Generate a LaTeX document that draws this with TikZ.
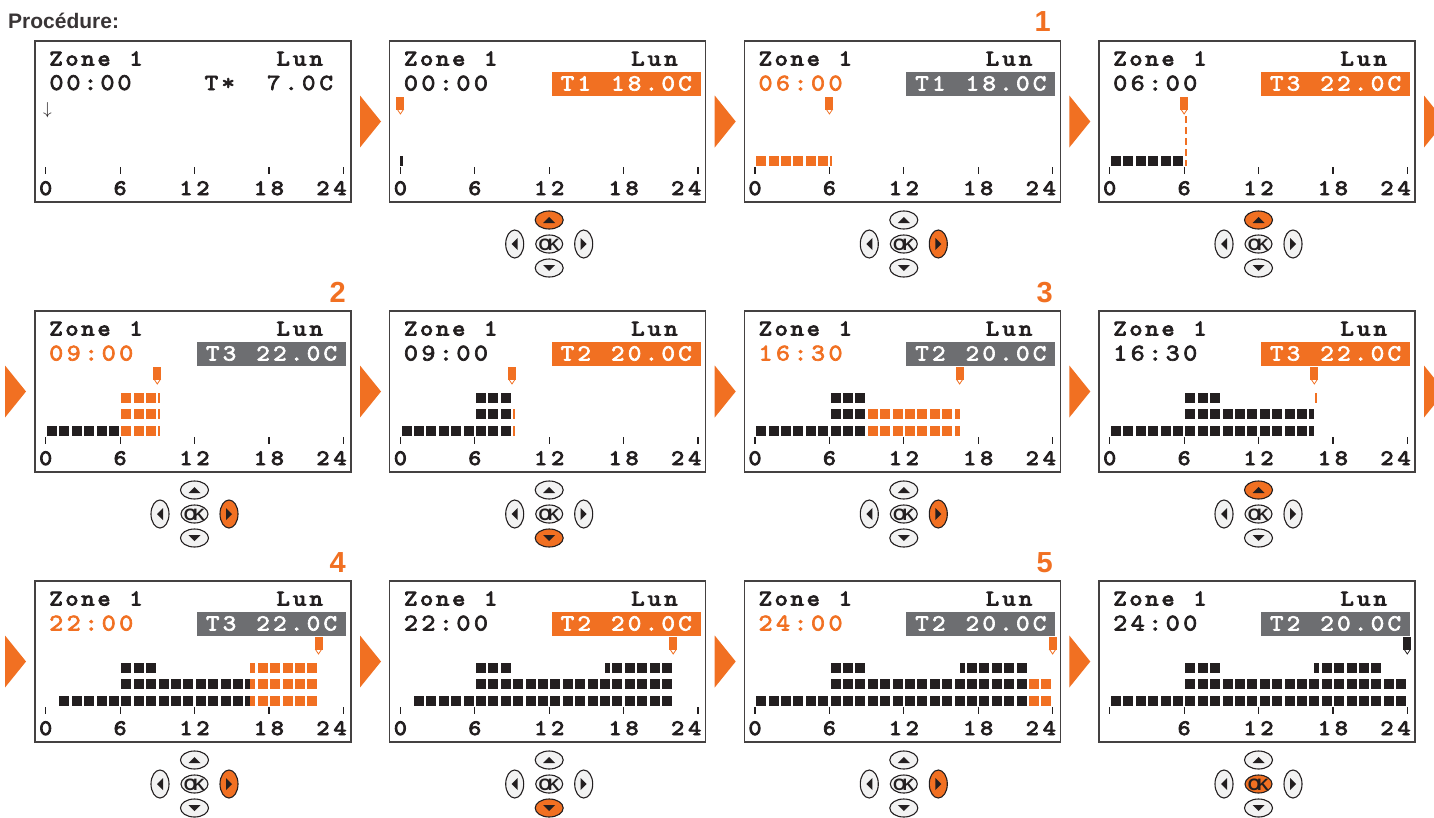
\documentclass[tikz,border=0pt]{standalone}
\usepackage{fontspec}
\newfontfamily\hel{Liberation Sans}
\newfontfamily\lcdB{lmmono10-regular.otf}[FakeBold=4,FakeStretch=1.12]
\newfontfamily\lcdM{lmmono10-regular.otf}[FakeBold=2.8,FakeStretch=1.12]
\definecolor{org}{RGB}{241,112,34}
\definecolor{gbox}{RGB}{109,110,113}
\definecolor{ink}{RGB}{35,31,32}
\definecolor{btnfill}{RGB}{242,242,242}
\newlength\lcdp
\let\lcdstop\relax
\def\lcdloop#1{\ifx#1\lcdstop\else\makebox[\lcdp]{#1}\expandafter\lcdloop\fi}
\newcommand\lcd[2]{\setlength\lcdp{#1}\lcdloop#2\lcdstop}
\newcommand\fz{\lcdB\fontsize{22.5pt}{22.5pt}\selectfont}
\newcommand\ft{\lcdM\fontsize{24pt}{24pt}\selectfont}
\newcommand\fb{\lcdM\fontsize{23pt}{23pt}\selectfont}
\newcommand\fa{\lcdB\fontsize{22pt}{22pt}\selectfont}
% frame of one screen
\newcommand\lcdframe[2]{%
  \draw[panel] (0,0) rectangle (316,161);
  \node[lcdt, anchor=base west] (#1zone) at (13,24.5) {\fz\lcd{16pt}{Zone~1}};
  \node[lcdt, anchor=base east] (#1lun) at (289.5,24.5) {\fz\lcd{16.5pt}{Lun}};
  \foreach \hh in {0,6,12,18,24}{\draw[tick] ({10.7+12.4*\hh},126) -- ({10.7+12.4*\hh},133);}
  \node[lcdt, anchor=base] (#1a0) at (10.7,154) {\fa #2};
  \node[lcdt, anchor=base] (#1a6) at (85.1,154) {\fa 6};
  \node[lcdt, anchor=base] (#1a12) at (159.5,154) {\fa\lcd{17pt}{12}};
  \node[lcdt, anchor=base] (#1a18) at (233.9,154) {\fa\lcd{17pt}{18}};
  \node[lcdt, anchor=base east] (#1a24) at (313.5,154) {\fa\lcd{17pt}{24}};
}
% time and temperature box
\newcommand\tbox[5]{%
  \node[lcdt, anchor=base west, text=#3] (#1time) at (12.5,49.5) {\ft\lcd{17.5pt}{#2}};
  \fill[#5] (162,31) rectangle (311,55);
  \node[lcdt, anchor=base, text=white] (#1temp) at (236.5,49.5) {\fb\lcd{16.8pt}{#4}};
}
% bar segment: row top, from hour, to hour, colour
\newcommand\seg[4]{%
  \pgfmathtruncatemacro\sega{floor(#2)}%
  \pgfmathtruncatemacro\segb{ceil(#3)-1}%
  \foreach \hh in {\sega,...,\segb}{%
    \pgfmathsetmacro\segl{(#2>\hh) ? (10.7+12.4*#2) : (10.7+12.4*\hh+1.2)}%
    \pgfmathsetmacro\segr{(#3<\hh+1) ? (10.7+12.4*#3) : (10.7+12.4*(\hh+1)-1.2)}%
    \fill[#4] (\segl,#1) rectangle (\segr,#1+10);
  }}
\newcommand\thinbar[3]{\fill[#3] ({10.7+12.4*#2+0.8},#1) rectangle ++(2,10);}
\newcommand\cursor[2]{%
  \pgfmathsetmacro\cx{10.7+12.4*#1}%
  \fill[#2] (\cx-4,56) rectangle (\cx+4,68.5);
  \filldraw[draw=#2, fill=white, line width=0.8pt] (\cx-3,68.5) -- (\cx+3,68.5) -- (\cx,73) -- cycle;
}
% keypad: id, up, down, left, right, ok fills
\newcommand\dpad[6]{%
  \filldraw[btn, fill=#2] (159.5,179) ellipse [x radius=14, y radius=9];
  \fill[ink] (153.5,182) -- (165.5,182) -- (159.5,176) -- cycle;
  \filldraw[btn, fill=#3] (159.5,227) ellipse [x radius=14, y radius=9];
  \fill[ink] (153.5,224) -- (165.5,224) -- (159.5,230) -- cycle;
  \filldraw[btn, fill=#4] (125,203) ellipse [x radius=9, y radius=14];
  \fill[ink] (128,197) -- (128,209) -- (122,203) -- cycle;
  \filldraw[btn, fill=#5] (194,203) ellipse [x radius=9, y radius=14];
  \fill[ink] (191,197) -- (191,209) -- (197,203) -- cycle;
  \filldraw[btn, fill=#6] (159.5,203) ellipse [x radius=13.5, y radius=9];
  \node[okt] (#1ok) at (159.5,203.5) {O\kern-3.5pt K};
}
\newcommand\bigarrow[2]{\fill[org] (#1,#2-26) -- (#1+21,#2) -- (#1,#2+26) -- cycle;}
\begin{document}
\begin{tikzpicture}[x=1pt,y=-1pt,
  panel/.style={draw=ink!85!white, line width=1.4pt},
  lcdt/.style={inner sep=0pt, outer sep=0pt, text=ink},
  tick/.style={draw=ink, line width=1.2pt},
  btn/.style={draw=ink, line width=1.1pt},
  okt/.style={inner sep=0pt, text=ink, font=\hel\bfseries\fontsize{16.5pt}{16.5pt}\selectfont},
  stepnum/.style={inner sep=0pt, text=org, font=\hel\bfseries\fontsize{29pt}{29pt}\selectfont},
]
\useasboundingbox (0,0) rectangle (1434,817);
\fill[white] (0,0) rectangle (1434,817);
\node[anchor=base west, inner sep=0pt, text=ink!90, font=\hel\bfseries\fontsize{21pt}{21pt}\selectfont] (title) at (8,28) {Procédure:};

% step numbers
\node[stepnum, anchor=base east] (n1) at (1051,31) {1};
\node[stepnum, anchor=base east] (n2) at (346,302) {2};
\node[stepnum, anchor=base east] (n3) at (1053,302) {3};
\node[stepnum, anchor=base east] (n4) at (346,572) {4};
\node[stepnum, anchor=base east] (n5) at (1053,572) {5};

% big arrows
\bigarrow{360}{121.5}\bigarrow{714.7}{121.5}\bigarrow{1069.3}{121.5}\bigarrow{1424}{121.5}
\bigarrow{5}{391.5}\bigarrow{360}{391.5}\bigarrow{714.7}{391.5}\bigarrow{1069.3}{391.5}\bigarrow{1424}{391.5}
\bigarrow{5}{661.5}\bigarrow{360}{661.5}\bigarrow{714.7}{661.5}\bigarrow{1069.3}{661.5}

% ---------- row 1 ----------
\begin{scope}[shift={(35,41)}]
  \lcdframe{p11}{0}
  \node[lcdt, anchor=base west] (p11time) at (13,49) {\ft\lcd{17pt}{00:00}};
  \node[lcdt, anchor=base west] (p11t) at (168,49) {\fb\lcd{16.8pt}{T*}};
  \node[lcdt, anchor=base east] (p11v) at (300,49) {\fb\lcd{17.5pt}{7.0C}};
  \node[lcdt, font=\fontsize{17pt}{17pt}\selectfont] (p11arr) at (12.5,69) {$\downarrow$};
\end{scope}
\begin{scope}[shift={(389.7,41)}]
  \lcdframe{p12}{0}
  \tbox{p12}{00:00}{ink}{T1~18.0C}{org}
  \cursor{0}{org}
  \fill[ink] (10.7,114.5) rectangle (13.7,124.5);
  \dpad{p12}{org}{btnfill}{btnfill}{btnfill}{btnfill}
\end{scope}
\begin{scope}[shift={(744.3,41)}]
  \lcdframe{p13}{0}
  \tbox{p13}{06:00}{org}{T1~18.0C}{gbox}
  \cursor{6}{org}
  \seg{114.5}{0}{6}{org}\thinbar{114.5}{6}{org}
  \dpad{p13}{btnfill}{btnfill}{btnfill}{org}{btnfill}
\end{scope}
\begin{scope}[shift={(1099,41)}]
  \lcdframe{p14}{0}
  \tbox{p14}{06:00}{ink}{T3~22.0C}{org}
  \cursor{6}{org}
  \seg{114.5}{0}{6}{ink}
  \draw[org, line width=2pt, dash pattern=on 7pt off 4pt] (87,75) -- (87,125);
  \dpad{p14}{org}{btnfill}{btnfill}{btnfill}{btnfill}
\end{scope}

% ---------- row 2 ----------
\begin{scope}[shift={(35,311)}]
  \lcdframe{p21}{0}
  \tbox{p21}{09:00}{org}{T3~22.0C}{gbox}
  \cursor{9}{org}
  \seg{114.5}{0}{6}{ink}
  \seg{114.5}{6}{9}{org}\seg{98}{6}{9}{org}\seg{81.5}{6}{9}{org}
  \thinbar{114.5}{9}{org}\thinbar{98}{9}{org}\thinbar{81.5}{9}{org}
  \dpad{p21}{btnfill}{btnfill}{btnfill}{org}{btnfill}
\end{scope}
\begin{scope}[shift={(389.7,311)}]
  \lcdframe{p22}{0}
  \tbox{p22}{09:00}{ink}{T2~20.0C}{org}
  \cursor{9}{org}
  \seg{114.5}{0}{9}{ink}\seg{98}{6}{9}{ink}\seg{81.5}{6}{9}{ink}
  \thinbar{114.5}{9}{org}\thinbar{98}{9}{org}
  \dpad{p22}{btnfill}{org}{btnfill}{btnfill}{btnfill}
\end{scope}
\begin{scope}[shift={(744.3,311)}]
  \lcdframe{p23}{0}
  \tbox{p23}{16:30}{org}{T2~20.0C}{gbox}
  \cursor{16.5}{org}
  \seg{114.5}{0}{9}{ink}\seg{98}{6}{9}{ink}\seg{81.5}{6}{9}{ink}
  \seg{114.5}{9}{16.5}{org}\seg{98}{9}{16.5}{org}
  \dpad{p23}{btnfill}{btnfill}{btnfill}{org}{btnfill}
\end{scope}
\begin{scope}[shift={(1099,311)}]
  \lcdframe{p24}{0}
  \tbox{p24}{16:30}{ink}{T3~22.0C}{org}
  \cursor{16.5}{org}
  \seg{114.5}{0}{16.5}{ink}\seg{98}{6}{16.5}{ink}\seg{81.5}{6}{9}{ink}
  \thinbar{81.5}{16.5}{org}
  \dpad{p24}{org}{btnfill}{btnfill}{btnfill}{btnfill}
\end{scope}

% ---------- row 3 ----------
\begin{scope}[shift={(35,581)}]
  \lcdframe{p31}{0}
  \tbox{p31}{22:00}{org}{T3~22.0C}{gbox}
  \cursor{22}{org}
  \seg{114.5}{1}{16.5}{ink}\seg{98}{6}{16.5}{ink}\seg{81.5}{6}{9}{ink}
  \seg{114.5}{16.5}{22}{org}\seg{98}{16.5}{22}{org}\seg{81.5}{16.5}{22}{org}
  \dpad{p31}{btnfill}{btnfill}{btnfill}{org}{btnfill}
\end{scope}
\begin{scope}[shift={(389.7,581)}]
  \lcdframe{p32}{0}
  \tbox{p32}{22:00}{ink}{T2~20.0C}{org}
  \cursor{22}{org}
  \seg{114.5}{1}{22}{ink}\seg{98}{6}{22}{ink}\seg{81.5}{6}{9}{ink}\seg{81.5}{16.5}{22}{ink}
  \dpad{p32}{btnfill}{org}{btnfill}{btnfill}{btnfill}
\end{scope}
\begin{scope}[shift={(744.3,581)}]
  \lcdframe{p33}{0}
  \tbox{p33}{24:00}{org}{T2~20.0C}{gbox}
  \cursor{24}{org}
  \seg{114.5}{0}{22}{ink}\seg{98}{6}{22}{ink}\seg{81.5}{6}{9}{ink}\seg{81.5}{16.5}{22}{ink}
  \seg{114.5}{22}{24}{org}\seg{98}{22}{24}{org}
  \dpad{p33}{btnfill}{btnfill}{btnfill}{org}{btnfill}
\end{scope}
\begin{scope}[shift={(1099,581)}]
  \lcdframe{p34}{}
  \tbox{p34}{24:00}{ink}{T2~20.0C}{gbox}
  \cursor{24}{ink}
  \seg{114.5}{0}{24}{ink}\seg{98}{6}{24}{ink}\seg{81.5}{6}{9}{ink}\seg{81.5}{16.5}{22}{ink}
  \dpad{p34}{btnfill}{btnfill}{btnfill}{btnfill}{org}
\end{scope}
\end{tikzpicture}
\end{document}
